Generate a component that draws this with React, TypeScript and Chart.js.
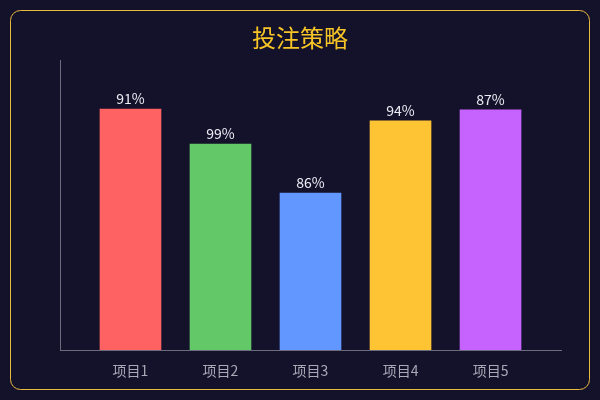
import { useEffect, useRef } from "react";
import { Chart, registerables, Plugin } from "chart.js";

Chart.register(...registerables);

const categories = ["项目1", "项目2", "项目3", "项目4", "项目5"];
const barValues = [83.1, 71.0, 54.1, 79.0, 82.8];
const barLabels = ["91%", "99%", "86%", "94%", "87%"];
const barColors = ["#ff6262", "#63c867", "#6297ff", "#ffc433", "#c663ff"];

const FONT = "'Noto Sans CJK SC', 'Noto Sans', sans-serif";

const backgroundPlugin: Plugin<"bar"> = {
  id: "panelBackground",
  beforeDraw(chart) {
    const { ctx, width, height } = chart;
    ctx.save();
    ctx.fillStyle = "#14112a";
    ctx.fillRect(0, 0, width, height);
    ctx.strokeStyle = "#e9bb3c";
    ctx.lineWidth = 1;
    ctx.beginPath();
    ctx.roundRect(10.5, 10.5, width - 21, height - 21, 10);
    ctx.stroke();
    ctx.restore();
  },
};

const valueLabelPlugin: Plugin<"bar"> = {
  id: "valueLabels",
  afterDatasetsDraw(chart) {
    const { ctx } = chart;
    const meta = chart.getDatasetMeta(0);
    ctx.save();
    ctx.font = `14px ${FONT}`;
    ctx.fillStyle = "#ececf4";
    ctx.textAlign = "center";
    ctx.textBaseline = "middle";
    meta.data.forEach((bar, i) => {
      ctx.fillText(barLabels[i], bar.x, bar.y - 10);
    });
    ctx.restore();
  },
};

export default function App() {
  const canvasRef = useRef<HTMLCanvasElement | null>(null);

  useEffect(() => {
    document.body.style.margin = "0";
    const canvas = canvasRef.current;
    if (!canvas) return;

    const chart = new Chart(canvas, {
      type: "bar",
      data: {
        datasets: [
          {
            data: barValues.map((v, i) => ({ x: i, y: v })),
            backgroundColor: barColors,
            borderWidth: 0,
            barThickness: 61,
          },
        ],
      },
      options: {
        responsive: true,
        maintainAspectRatio: false,
        animation: false,
        layout: { padding: 0 },
        scales: {
          x: {
            type: "linear",
            offset: false,
            min: -0.783,
            max: 4.783,
            afterBuildTicks: (scale) => {
              scale.ticks = categories.map((_, i) => ({ value: i }));
            },
            afterFit: (scale) => {
              scale.height = 50;
            },
            grid: { display: false, drawTicks: false },
            border: { display: true, color: "#6c6c7e", width: 1 },
            ticks: {
              padding: 12,
              color: "#a9a9b8",
              font: { family: FONT, size: 14 },
              callback: (value) => categories[Number(value)] ?? "",
            },
          },
          y: {
            min: 0,
            max: 100,
            afterFit: (scale) => {
              scale.width = 60;
            },
            grid: { display: false, drawTicks: false },
            border: { display: true, color: "#6c6c7e", width: 1 },
            ticks: { display: false },
          },
          yRight: {
            position: "right",
            display: true,
            afterFit: (scale) => {
              scale.width = 39;
            },
            grid: { display: false, drawTicks: false },
            border: { display: false },
            ticks: { display: false },
          },
        },
        plugins: {
          legend: { display: false },
          tooltip: { enabled: false },
          title: {
            display: true,
            text: "投注策略",
            color: "#f8c526",
            font: { family: FONT, size: 24, weight: "normal", lineHeight: 1.2 },
            padding: { top: 23, bottom: 8.2 },
          },
        },
      },
      plugins: [backgroundPlugin, valueLabelPlugin],
    });

    return () => {
      chart.destroy();
    };
  }, []);

  return (
    <div style={{ width: 600, height: 400, position: "relative" }}>
      <canvas ref={canvasRef} />
    </div>
  );
}
